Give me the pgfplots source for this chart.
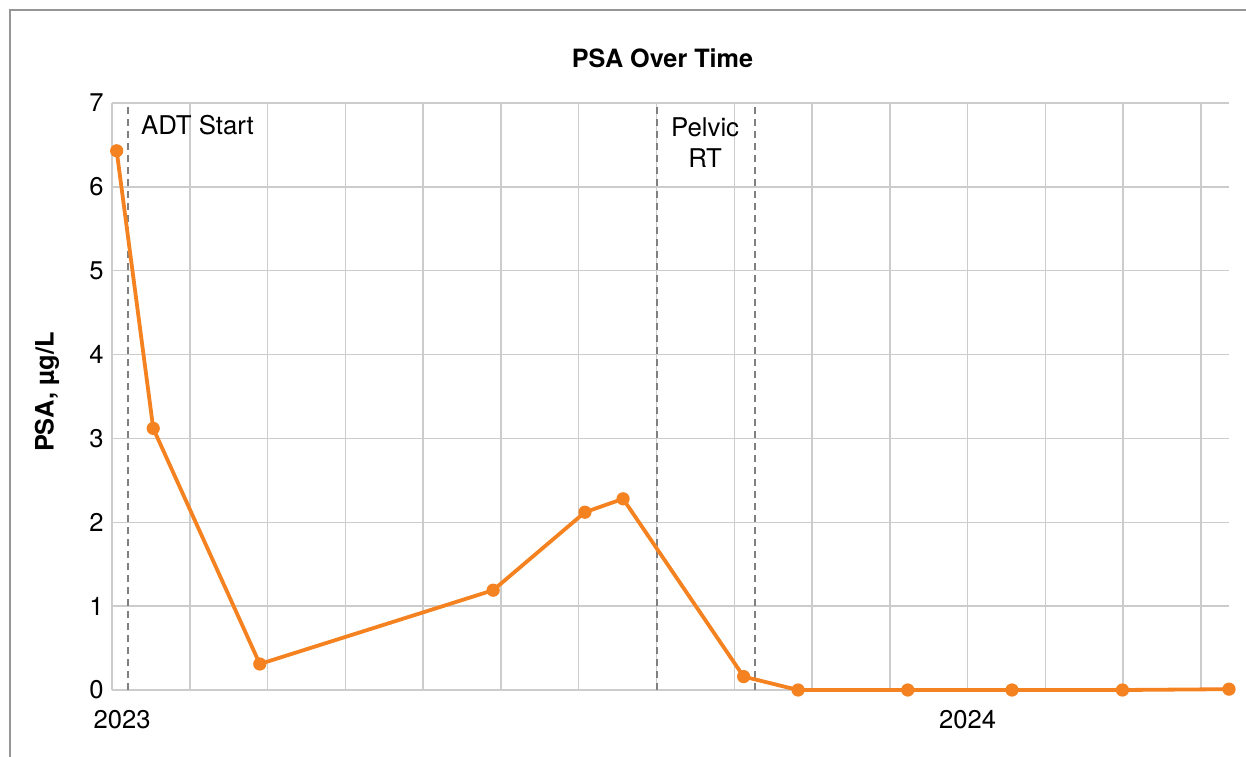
\documentclass[border=0pt]{standalone}
\usepackage{pgfplots}
\pgfplotsset{compat=1.18}
\usepackage{fontspec}
\setmainfont{TeX Gyre Heros}
\definecolor{psaorange}{RGB}{245,130,32}
\definecolor{gridgray}{RGB}{204,204,204}
\definecolor{dashgray}{RGB}{128,128,128}
\definecolor{framegray}{RGB}{150,150,150}
\begin{document}
\begin{tikzpicture}
\path[use as bounding box] (0,0) rectangle (623pt,378pt);
\draw[framegray, line width=0.75pt] (5pt,-2pt) -- (5pt,373pt) -- (625pt,373pt);
\node[font=\fontsize{12.6}{15}\selectfont\bfseries] at (331.25pt,349pt) {PSA Over Time};
\node[rotate=90, font=\fontsize{12.7}{15}\selectfont\bfseries] at (23.5pt,182pt) {PSA, µg/L};
\begin{axis}[
 scale only axis, width=558.5pt, height=293.5pt,
 anchor=south west, at={(56pt,33pt)},
 xmin=0, xmax=14.36, ymin=0, ymax=7,
 axis lines=left, axis line style={-, draw=gridgray, line width=0.8pt},
 xtick={0,...,14}, xticklabels={,,,,,,,,,,,2024,,,},
 extra x ticks={0.13}, extra x tick labels={2023}, extra x tick style={grid=none},
 ytick={0,...,7},
 grid=major, grid style={draw=gridgray, line width=0.75pt},
 major tick length=0pt,
 tick label style={font=\fontsize{12.8}{15}\selectfont},
 yticklabel style={anchor=east, inner sep=0pt, xshift=-4pt},
 xticklabel style={anchor=north, inner sep=0pt, yshift=-10pt},
 clip=false,
 /pgf/number format/assume math mode=true,
]
\addplot[dashgray, line width=1pt, dash pattern=on 3.5pt off 2.5pt, forget plot] coordinates {(0.21,0) (0.21,7)};
\addplot[dashgray, line width=1pt, dash pattern=on 3.5pt off 2.5pt, forget plot] coordinates {(7.0,0) (7.0,7)};
\addplot[dashgray, line width=1pt, dash pattern=on 3.5pt off 2.5pt, forget plot] coordinates {(8.26,0) (8.26,7)};
\addplot[psaorange, line width=1.9pt, mark=*, mark size=3pt, mark options={solid, fill=psaorange, draw=psaorange, line width=0.6pt}] coordinates {
(0.06,6.43) (0.53,3.12) (1.90,0.31) (4.90,1.19) (6.08,2.12) (6.57,2.28) (8.12,0.16) (8.82,0) (10.23,0) (11.57,0) (12.99,0) (14.36,0.01)
};
\node[anchor=west, inner sep=0pt, font=\fontsize{12.9}{15}\selectfont] at (axis cs:0.37,6.74) {ADT Start};
\node[anchor=north, inner sep=0pt, align=center, font=\fontsize{12.9}{15.5}\selectfont] at (axis cs:7.625,6.83) {Pelvic\\RT};
\end{axis}
\end{tikzpicture}
\end{document}
